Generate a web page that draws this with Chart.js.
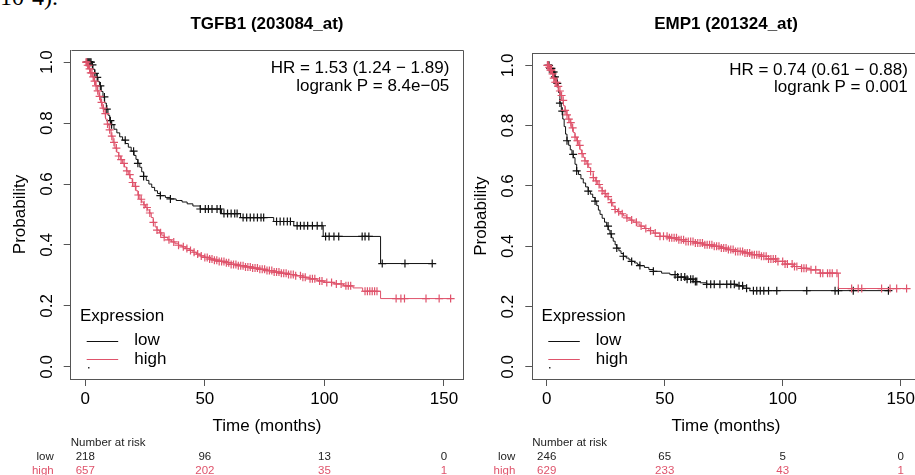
<!DOCTYPE html>
<html><head><meta charset="utf-8">
<script src="https://cdn.jsdelivr.net/npm/chart.js@4.4.1/dist/chart.umd.min.js"></script>
<style>
html,body{margin:0;padding:0;background:#fff;overflow:hidden;width:915px;height:475px;}
#wrap{position:relative;width:915px;height:475px;overflow:hidden;background:#fff;}
canvas{position:absolute;top:0;}
#frag{position:absolute;left:0;top:-16px;font:24px "Liberation Serif","DejaVu Serif",serif;color:#000;white-space:nowrap;line-height:normal;}
</style></head><body>
<div id="wrap">
<div id="frag">10-4).</div>
<canvas id="c1" width="470" height="475" style="left:0px"></canvas>
<canvas id="c2" width="470" height="475" style="left:460px"></canvas>
</div>
<script>
// ---------- shared axis data ----------
const xTicks = [0, 50, 100, 150];
const yTicks = [0, 0.2, 0.4, 0.6, 0.8, 1.0];
const riskTimes = [0, 50, 100, 150];
const groupNames = ['low', 'high'];

// ---------- Panel 1: TGFB1 ----------
const tgfb1Title = 'TGFB1 (203084_at)';
const tgfb1Stats = ['HR = 1.53 (1.24 \u2212 1.89)', 'logrank P = 8.4e\u221205'];
// [time, survival] after each step
const tgfb1Low = [[0,1.000],[2.5,0.991],[3.2,0.977],[3.9,0.963],[4.6,0.950],[5.3,0.936],[6.0,0.922],[6.7,0.904],[7.4,0.886],[8.1,0.866],[8.8,0.846],[9.5,0.826],[10.2,0.808],[11.0,0.795],[12.0,0.780],[13.2,0.768],[14.4,0.755],[15.6,0.744],[16.8,0.733],[18.0,0.721],[19.2,0.708],[20.4,0.694],[21.2,0.681],[22.0,0.668],[22.8,0.655],[23.6,0.640],[24.4,0.625],[25.5,0.612],[26.6,0.600],[27.8,0.589],[29.0,0.578],[30.2,0.569],[31.4,0.562],[33.5,0.556],[35.6,0.551],[38.0,0.546],[40.5,0.541],[42.6,0.535],[45.0,0.528],[48.1,0.518],[57.0,0.503],[64.9,0.490],[78.8,0.477],[87.2,0.463],[99.5,0.428],[123.5,0.339],[145.1,0.339]];
const tgfb1High = [[0,1.0],[0.8,0.990],[1.5,0.978],[2.2,0.965],[2.9,0.952],[3.6,0.938],[4.3,0.922],[5.0,0.906],[5.7,0.888],[6.4,0.868],[7.1,0.849],[7.8,0.831],[8.5,0.813],[9.2,0.797],[10.0,0.778],[10.8,0.757],[11.6,0.737],[12.4,0.718],[13.2,0.704],[14.0,0.692],[14.8,0.680],[15.6,0.668],[16.4,0.656],[17.2,0.643],[18.0,0.631],[18.8,0.618],[19.6,0.605],[20.4,0.592],[21.2,0.578],[22.0,0.564],[22.8,0.550],[23.6,0.541],[24.4,0.532],[25.2,0.523],[26.0,0.515],[26.8,0.505],[27.6,0.490],[28.4,0.474],[29.2,0.459],[30.0,0.449],[31.0,0.440],[32.0,0.432],[33.0,0.425],[34.5,0.417],[36.0,0.410],[37.5,0.404],[39.0,0.399],[40.5,0.394],[42.0,0.388],[43.5,0.382],[45.0,0.376],[46.5,0.370],[48.0,0.364],[50.0,0.359],[52.0,0.354],[54.0,0.350],[56.0,0.346],[58.5,0.342],[61.0,0.336],[64.0,0.332],[67.0,0.328],[70.0,0.324],[73.0,0.320],[76.0,0.316],[79.0,0.311],[82.0,0.307],[85.0,0.303],[88.0,0.299],[91.0,0.294],[94.0,0.289],[97.0,0.282],[100.0,0.277],[104.0,0.272],[108.0,0.266],[112.0,0.259],[116.0,0.248],[123.5,0.224],[153.5,0.224]];
const tgfb1LowCensor = [0.8,1.2,1.6,2.0,2.4,3.0,4.0,5.0,6.3,8.0,9.0,10.5,11.0,16.7,20.2,22.0,24.4,31.4,35.6,48.1,50.2,51.5,53.0,55.1,56.5,58.0,59.5,61.0,62.5,63.5,66.0,67.5,69.0,70.5,72.0,73.5,74.6,80.0,81.5,83.0,84.5,85.8,88.6,90.0,91.5,93.0,95.0,97.0,99.0,100.5,102.0,104.0,106.0,115.8,117.0,118.6,124.2,133.7,145.1];
const tgfb1HighCensor = [0.3,0.6,1.0,1.4,1.8,2.3,2.8,3.3,3.9,4.5,5.2,6.0,6.8,7.6,8.4,9.3,10.2,11.1,12.0,13.0,14.0,15.0,16.2,17.4,18.6,19.8,21.0,22.2,23.4,24.6,25.8,27.0,28.5,30.0,31.5,33.0,35.0,37.0,39.0,41.0,42.5,44.0,45.5,47.0,48.5,50.0,51.0,52.0,53.0,54.0,55.0,56.0,57.0,58.0,59.0,60.0,61.0,62.0,63.0,64.0,65.0,66.0,67.0,68.0,69.0,70.0,71.0,72.0,73.0,74.0,75.0,76.0,77.0,78.0,79.0,80.0,81.0,82.0,83.0,84.0,85.0,86.0,87.0,88.0,90.0,91.0,92.0,94.0,95.0,96.0,98.0,99.0,101.0,103.0,105.0,107.0,109.0,110.0,111.0,117.0,118.0,119.0,120.0,121.0,122.0,130.0,132.0,133.5,142.5,148.0,152.8];
const tgfb1RiskLow = [218, 96, 13, 0];
const tgfb1RiskHigh = [657, 202, 35, 1];

// ---------- Panel 2: EMP1 ----------
const emp1Title = 'EMP1 (201324_at)';
const emp1Stats = ['HR = 0.74 (0.61 \u2212 0.88)', 'logrank P = 0.001'];
const emp1Low = [[0,1.0],[1.5,0.990],[2.5,0.978],[3.5,0.962],[4.3,0.940],[5.0,0.910],[5.6,0.875],[6.2,0.848],[6.8,0.822],[7.4,0.797],[8.0,0.772],[8.6,0.750],[9.3,0.735],[10.0,0.720],[10.7,0.705],[11.3,0.694],[12.0,0.672],[12.7,0.650],[13.5,0.638],[14.5,0.624],[15.5,0.610],[16.5,0.597],[17.6,0.583],[18.5,0.573],[19.5,0.562],[20.5,0.550],[21.2,0.535],[21.9,0.520],[22.6,0.506],[23.5,0.493],[24.5,0.480],[25.4,0.467],[26.1,0.454],[26.8,0.441],[27.5,0.428],[28.2,0.417],[29.0,0.405],[29.7,0.394],[30.6,0.385],[31.5,0.376],[32.5,0.367],[33.7,0.361],[34.9,0.355],[36.0,0.350],[37.2,0.345],[38.4,0.340],[39.5,0.336],[41.4,0.330],[43.3,0.323],[45.2,0.317],[48.7,0.311],[52.2,0.306],[55.5,0.298],[58.8,0.291],[62.1,0.283],[65.0,0.279],[67.8,0.274],[80.5,0.269],[83.3,0.261],[86.1,0.253],[145.5,0.253]];
const emp1High = [[0,1.0],[0.8,0.993],[1.5,0.984],[2.2,0.972],[2.9,0.958],[3.6,0.944],[4.3,0.930],[5.0,0.915],[5.7,0.900],[6.4,0.884],[7.1,0.866],[7.8,0.851],[8.5,0.836],[9.2,0.822],[9.9,0.810],[10.6,0.793],[11.3,0.777],[12.0,0.762],[12.7,0.750],[13.4,0.735],[14.1,0.720],[14.8,0.707],[15.5,0.695],[16.2,0.683],[17.0,0.673],[17.8,0.661],[18.6,0.648],[19.7,0.628],[20.6,0.617],[21.6,0.605],[22.6,0.594],[23.5,0.584],[24.3,0.575],[25.2,0.565],[26.1,0.556],[27.0,0.545],[28.0,0.533],[28.9,0.522],[30.0,0.515],[31.2,0.508],[32.5,0.501],[33.9,0.494],[35.3,0.487],[36.7,0.480],[38.1,0.474],[39.5,0.467],[41.4,0.459],[43.3,0.452],[45.2,0.444],[48.0,0.433],[51.5,0.428],[55.1,0.422],[58.6,0.416],[62.1,0.411],[66.4,0.405],[70.6,0.400],[73.5,0.394],[76.3,0.389],[79.8,0.383],[83.3,0.378],[86.9,0.372],[90.4,0.367],[94.0,0.358],[97.5,0.350],[101.0,0.341],[104.5,0.333],[108.0,0.327],[111.6,0.322],[115.8,0.311],[123.6,0.260],[152.5,0.260]];
const emp1LowCensor = [0.5,1.0,1.5,2.0,2.5,3.0,3.5,4.5,5.6,6.6,8.6,11.2,12.7,17.6,20.5,26.0,27.3,29.7,32.5,36.0,39.5,45.2,54.4,55.5,57.0,58.5,59.5,61.0,62.0,63.0,63.6,67.8,69.5,71.0,73.4,76.3,78.0,79.5,81.5,83.0,84.7,87.6,89.0,90.5,92.0,94.0,97.5,110.2,122.2,123.6,129.9,144.8];
const emp1HighCensor = [0.3,0.7,1.1,1.6,2.0,2.5,3.0,3.6,4.2,4.9,5.6,6.3,7.0,7.8,8.6,9.4,10.2,11.0,12.0,13.0,14.0,15.0,16.2,17.4,18.6,19.8,21.0,22.2,23.5,24.8,26.0,27.5,29.0,30.5,32.0,34.0,36.0,38.0,40.0,42.0,44.0,46.0,48.0,49.5,51.0,52.0,53.0,54.0,55.0,56.0,57.0,58.0,59.0,60.0,61.0,62.0,63.0,64.0,65.0,66.0,67.0,68.0,69.0,70.0,71.0,72.0,73.0,74.0,75.0,76.0,77.0,78.0,79.0,80.0,81.0,82.0,83.0,84.0,85.0,86.0,87.0,88.0,89.0,90.0,91.0,92.0,93.0,94.0,95.0,96.0,97.0,98.0,100.0,101.0,102.0,104.0,105.0,106.0,108.0,109.0,110.0,112.0,114.0,116.0,117.0,119.0,120.0,121.0,123.0,129.2,132.0,133.5,141.9,145.5,148.3,152.5];
const emp1RiskLow = [246, 65, 5, 0];
const emp1RiskHigh = [629, 233, 43, 1];

// ---------- styling ----------
const RED = '#DF536B', BLK = '#111111', AX = '#555555';
const FONT = '"Liberation Sans", Arial, Helvetica, sans-serif';

function survAt(steps, t) {
  let s = steps[0][1];
  for (const [tt, ss] of steps) { if (tt <= t) s = ss; else break; }
  return s;
}

function annotPlugin(P) {
  return {
    id: 'annot',
    afterDraw(chart) {
      const {ctx, chartArea: ca, scales: {x}} = chart;
      const al = v => Math.round(v) + 0.5;
      ctx.save();
      ctx.strokeStyle = AX; ctx.lineWidth = 1;
      ctx.beginPath();
      ctx.moveTo(al(ca.left), al(ca.top));
      ctx.lineTo(al(ca.right), al(ca.top));
      ctx.lineTo(al(ca.right), al(ca.bottom));
      ctx.stroke();
      // title
      ctx.fillStyle = '#000';
      ctx.font = 'bold 17px ' + FONT;
      ctx.textAlign = 'center'; ctx.textBaseline = 'middle';
      ctx.fillText(P.title, (ca.left + ca.right) / 2, P.titleY);
      // stats
      ctx.font = '17px ' + FONT; ctx.textAlign = 'right';
      P.stats.forEach((s, i) => ctx.fillText(s, ca.right - P.statsInset, P.statsY[i]));
      // legend
      ctx.textAlign = 'left';
      ctx.fillText('Expression', ca.left + 9.3, ca.bottom - 63);
      const rows = [[groupNames[0], BLK, ca.bottom - 38.3], [groupNames[1], RED, ca.bottom - 19.7]];
      rows.forEach(([name, col, y]) => {
        ctx.strokeStyle = col; ctx.lineWidth = 1;
        ctx.beginPath(); ctx.moveTo(ca.left + 16, al(y)); ctx.lineTo(ca.left + 47.5, al(y)); ctx.stroke();
        ctx.fillStyle = '#000';
        ctx.fillText(name, ca.left + 63.5, y);
      });
      ctx.fillStyle = '#333';
      ctx.fillRect(Math.round(ca.left + 17), Math.round(ca.bottom - 12), 1.5, 1.5);
      // number at risk
      ctx.font = '11.5px ' + FONT;
      ctx.fillStyle = '#222'; ctx.textAlign = 'left';
      ctx.fillText('Number at risk', ca.left, 442.7);
      const riskRows = [[groupNames[0], P.riskLow, '#222', 456.7], [groupNames[1], P.riskHigh, RED, 470.7]];
      riskRows.forEach(([name, vals, col, y]) => {
        ctx.fillStyle = col;
        ctx.textAlign = 'right';
        ctx.fillText(name, ca.left - 17, y);
        ctx.textAlign = 'center';
        vals.forEach((v, i) => ctx.fillText(String(v), x.getPixelForValue(riskTimes[i]), y));
      });
      ctx.restore();
    }
  };
}

function panel(id, P) {
  const lineDs = (steps, color) => ({
    data: steps.map(([t, s]) => ({x: t, y: s})),
    borderColor: color, borderWidth: 1, stepped: 'before',
    pointRadius: 0, fill: false, showLine: true
  });
  const censDs = (times, steps, color) => ({
    data: times.map(t => ({x: t, y: survAt(steps, t)})),
    showLine: false, pointStyle: 'cross', pointRadius: 4,
    borderColor: color, backgroundColor: color, borderWidth: 1.2
  });
  const tickFont = {family: FONT, size: 17};
  return new Chart(document.getElementById(id), {
    type: 'line',
    data: {datasets: [
      censDs(P.highC, P.high, RED), lineDs(P.high, RED),
      censDs(P.lowC, P.low, BLK), lineDs(P.low, BLK)
    ]},
    options: {
      responsive: false, maintainAspectRatio: false, animation: false, devicePixelRatio: 1, events: [],
      layout: {padding: {left: P.padL, right: P.padR, top: P.padT, bottom: 38.1}},
      plugins: {legend: {display: false}, tooltip: {enabled: false}, title: {display: false}},
      scales: {
        x: {
          type: 'linear', position: 'bottom', min: -6.1, max: 158.1,
          afterBuildTicks: s => { s.ticks = xTicks.map(v => ({value: v})); },
          afterFit: s => { s.height = 57.9; },
          grid: {display: true, drawOnChartArea: false, drawTicks: true, tickLength: 7, color: AX, lineWidth: 1},
          border: {display: true, color: AX, width: 1},
          ticks: {font: tickFont, color: '#000', padding: 3, maxRotation: 0, autoSkip: false, callback: v => String(v)},
          title: {display: true, text: 'Time (months)', font: tickFont, color: '#000', padding: {top: 0, bottom: 0}}
        },
        y: {
          type: 'linear', position: 'left', min: -0.04, max: 1.04,
          afterBuildTicks: s => { s.ticks = yTicks.map(v => ({value: v})); },
          afterFit: s => { s.width = 70.7; },
          grid: {display: true, drawOnChartArea: false, drawTicks: true, tickLength: 7, color: AX, lineWidth: 1},
          border: {display: true, color: AX, width: 1},
          ticks: {font: tickFont, color: '#000', padding: 5, minRotation: 90, maxRotation: 90, crossAlign: 'center', autoSkip: false, callback: v => Number(v).toFixed(1)},
          title: {display: true, text: 'Probability', font: tickFont, color: '#000', padding: {top: 9.8, bottom: 0}}
        }
      }
    },
    plugins: [annotPlugin(P)]
  });
}

panel('c1', {
  title: tgfb1Title, stats: tgfb1Stats, titleY: 24, statsY: [68.5, 86], statsInset: 14,
  low: tgfb1Low, high: tgfb1High, lowC: tgfb1LowCensor, highC: tgfb1HighCensor,
  riskLow: tgfb1RiskLow, riskHigh: tgfb1RiskHigh,
  padL: 0, padR: 6.7, padT: 50
});
panel('c2', {
  title: emp1Title, stats: emp1Stats, titleY: 24, statsY: [70, 87], statsInset: 12,
  low: emp1Low, high: emp1High, lowC: emp1LowCensor, highC: emp1HighCensor,
  riskLow: emp1RiskLow, riskHigh: emp1RiskHigh,
  padL: 1.6, padR: 10.2, padT: 53.3
});
</script>
</body></html>
